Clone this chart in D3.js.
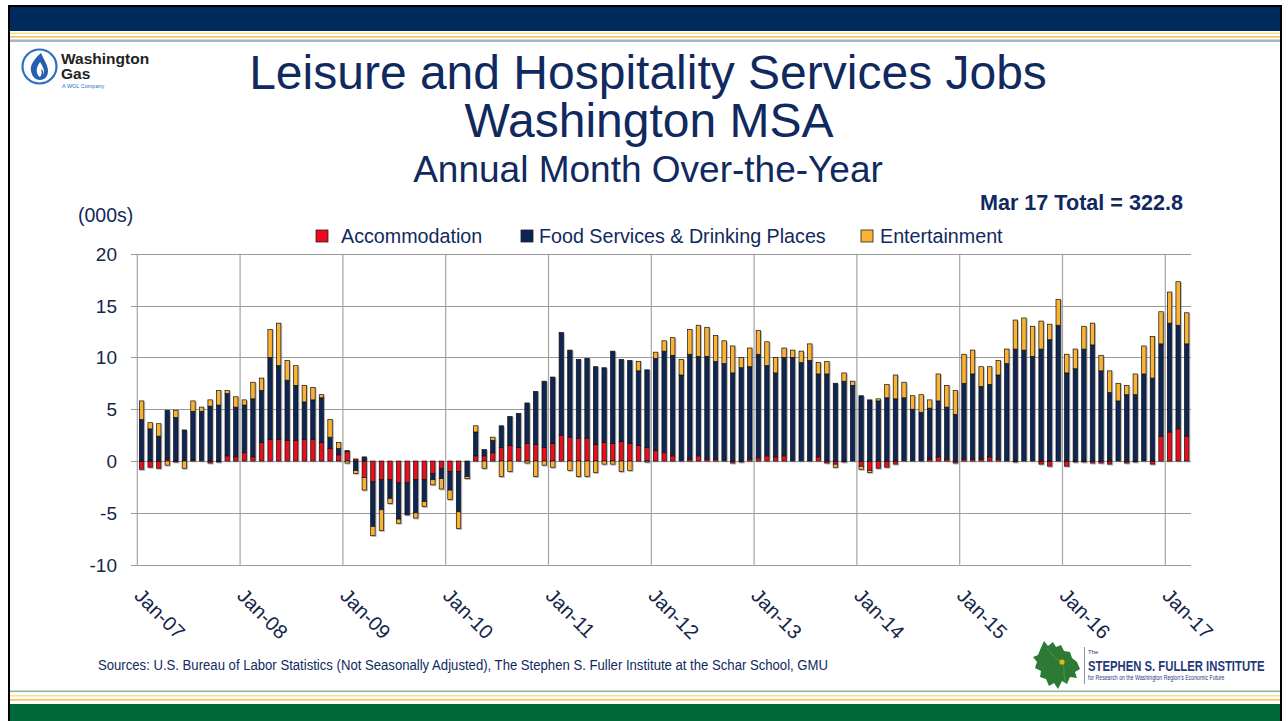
<!DOCTYPE html>
<html>
<head>
<meta charset="utf-8">
<script src="https://cdn.jsdelivr.net/npm/d3@7"></script>
<style>
  body { margin: 0; background: #fff; }
  svg { display: block; font-family: "Liberation Sans", Arial, sans-serif; }
</style>
</head>
<body>
<svg id="chart" width="1288" height="721"></svg>
<script>
// ---- data (thousands of jobs, change over the year) ----
var years = ["07","08","09","10","11","12","13","14","15","16","17"];
var monthNames = ["Jan","Feb","Mar","Apr","May","Jun","Jul","Aug","Sep","Oct","Nov","Dec"];
var months = [];
years.forEach(function(y){ monthNames.forEach(function(m){ months.push(m + "-" + y); }); });
months = months.slice(0, 123); // Jan-07 .. Mar-17

var accommodation = [
  -0.8,-0.6,-0.7,0.2,-0.1,0,0.1,0,-0.2,-0.1,0.5,0.4,
  0.8,0.4,1.8,2.1,2.1,2.0,2.0,2.1,2.1,1.8,1.2,0.6,
  0.9,0.2,-1.6,-2.0,-1.8,-1.8,-2.1,-2.1,-1.8,-1.8,-1.2,-0.7,
  -1.0,-1.0,0,0.5,0.5,0.8,1.3,1.5,1.3,1.7,1.6,1.3,
  1.7,2.5,2.3,2.2,2.2,1.6,1.8,1.7,1.9,1.7,1.5,1.3,
  1.0,0.8,0.5,0,0.2,0.5,0.2,0.2,0,-0.2,-0.1,0.2,
  0.3,0.5,0.4,0.5,0,0,0,0.4,-0.2,-0.3,-0.1,0,
  -0.5,-0.9,-0.7,-0.6,-0.3,0,0,0,0.2,0.4,0.2,-0.2,
  0.2,0.2,0.2,0.4,0.2,0,-0.1,0,0,-0.3,-0.5,0,
  -0.5,-0.1,-0.1,-0.2,-0.2,-0.3,0,-0.2,-0.1,0,-0.3,2.4,
  2.8,3.1,2.4
];
var food = [
  4.0,3.1,2.4,4.7,4.2,3.0,4.7,4.8,5.3,5.4,6.0,4.8,
  4.6,5.6,5.0,7.9,7.1,5.8,5.3,3.6,3.8,4.3,1.1,0.6,
  0.1,-0.9,0.4,-4.3,-2.9,-1.8,-3.5,-3.1,-3.2,-2.1,-0.6,-1.0,
  -1.8,-3.9,-1.5,2.3,0.6,1.2,2.1,2.8,3.3,3.9,5.1,6.4,
  6.4,9.9,8.4,7.6,7.7,7.5,7.2,8.9,7.9,8.0,7.2,7.5,
  8.9,9.8,9.7,8.3,10.1,9.6,9.9,9.4,9.4,8.5,9.0,8.9,
  10.0,8.7,8.1,9.5,10.0,9.5,9.7,8.0,8.4,7.5,7.7,7.3,
  6.3,5.9,5.8,6.1,6.0,6.1,5.0,4.7,4.9,5.4,5.0,4.5,
  7.3,8.2,7.0,7.0,8.1,9.4,10.8,10.7,10.1,10.8,11.7,13.1,
  8.5,8.9,10.8,11.2,8.7,6.6,5.8,6.4,6.4,8.4,8.0,8.9,
  10.5,10.0,8.9
];
var entertainment = [
  1.8,0.6,1.2,-0.4,0.7,-0.7,1.0,0.4,0.6,1.4,0.3,1.0,
  0.5,1.6,1.2,2.7,4.1,1.9,1.9,1.6,1.2,0.3,1.7,0.6,
  -0.2,-0.3,-1.2,-0.9,-2.0,-0.5,-0.4,0,-0.5,-0.5,-0.5,-1.0,
  -0.9,-1.6,-0.2,0.6,-0.7,0.3,-1.5,-1.0,0,-0.2,-1.5,-0.4,
  -0.6,0,-0.9,-1.5,-1.5,-1.1,-0.3,-0.3,-1.0,-0.9,0.9,-0.1,
  0.6,1.0,1.7,1.5,2.4,3.0,2.8,2.5,2.2,2.6,1.0,1.8,
  2.3,2.3,1.5,0.9,0.7,1.1,1.6,1.1,1.2,-0.3,0.8,0.4,
  -0.3,-0.2,0.2,1.3,2.3,1.5,1.3,1.7,0.8,2.6,2.1,2.3,
  2.8,2.3,1.9,1.7,1.4,1.4,2.8,3.1,2.9,2.7,1.5,2.5,
  1.8,1.9,2.2,2.1,1.5,2.1,1.7,0.9,2.0,2.7,4.0,3.1,
  3.0,4.2,3.0
];
var seriesKeys = ["acc", "food", "ent"];
var seriesNames = ["Accommodation", "Food Services & Drinking Places", "Entertainment"];
var seriesColors = ["#ec0a1c", "#0b2552", "#fbb232"];
var yTicks = [-10, -5, 0, 5, 10, 15, 20];
var xTickLabels = ["Jan-07","Jan-08","Jan-09","Jan-10","Jan-11","Jan-12","Jan-13","Jan-14","Jan-15","Jan-16","Jan-17"];

var navy = "#10295e";
var svg = d3.select("#chart");

// ---- slide frame ----
svg.append("rect").attr("x", 10).attr("y", 7).attr("width", 1270).attr("height", 24).attr("fill", "#002a5c");
svg.append("rect").attr("x", 10).attr("y", 32.5).attr("width", 1270).attr("height", 1.5).attr("fill", "#f7e08f");
svg.append("rect").attr("x", 10).attr("y", 36).attr("width", 1270).attr("height", 1.6).attr("fill", "#f3c64a");
svg.append("rect").attr("x", 10).attr("y", 39.5).attr("width", 1270).attr("height", 2.5).attr("fill", "#a5b4c8");

svg.append("rect").attr("x", 10).attr("y", 690.5).attr("width", 1270).attr("height", 1.6).attr("fill", "#8db89a");
svg.append("rect").attr("x", 10).attr("y", 695).attr("width", 1270).attr("height", 1.5).attr("fill", "#f7e08f");
svg.append("rect").attr("x", 10).attr("y", 699).attr("width", 1270).attr("height", 1.6).attr("fill", "#f3c64a");
svg.append("rect").attr("x", 10).attr("y", 704).attr("width", 1270).attr("height", 17).attr("fill", "#006838");

svg.append("path").attr("d", "M9,721V6H1281V721").attr("fill", "none").attr("stroke", "#000").attr("stroke-width", 2);

// ---- Washington Gas logo ----
var wg = svg.append("g");
wg.append("circle").attr("cx", 39.5).attr("cy", 66.5).attr("r", 17).attr("fill", "#fff").attr("stroke", "#2f6fbf").attr("stroke-width", 2.2);
wg.append("path").attr("d", "M41,53 C33,60 30,66 31,71 C32,77 36,80 40,80 C45,80 48,76 48,71 C48,65 44,60 41,53 Z").attr("fill", "#245fb0");
wg.append("path").attr("d", "M40,62 C37,66 36,70 37,73 C38,76 40,77 40,77 C42,75 42,72 41,69 C43,70 44,72 43,75 C45,72 44,68 40,62 Z").attr("fill", "#fff");
wg.append("text").attr("x", 61).attr("y", 64).attr("font-size", 15.5).attr("font-weight", "bold").attr("fill", "#222").text("Washington");
wg.append("text").attr("x", 61).attr("y", 79).attr("font-size", 15.5).attr("font-weight", "bold").attr("fill", "#222").text("Gas");
wg.append("text").attr("x", 62).attr("y", 88).attr("font-size", 5.5).attr("fill", "#2f6fbf").text("A WGL Company");

// ---- titles ----
svg.append("text").attr("x", 648).attr("y", 89).attr("text-anchor", "middle").attr("font-size", 48).attr("fill", navy).text("Leisure and Hospitality Services Jobs");
svg.append("text").attr("x", 649).attr("y", 137).attr("text-anchor", "middle").attr("font-size", 48).attr("fill", navy).text("Washington MSA");
svg.append("text").attr("x", 648).attr("y", 182).attr("text-anchor", "middle").attr("font-size", 37).attr("fill", navy).text("Annual Month Over-the-Year");
svg.append("text").attr("x", 1183).attr("y", 210).attr("text-anchor", "end").attr("font-size", 21.6).attr("font-weight", "bold").attr("fill", navy).text("Mar 17 Total = 322.8");
svg.append("text").attr("x", 78).attr("y", 222).attr("font-size", 19.5).attr("fill", navy).text("(000s)");

// ---- legend ----
var legendX = [316, 521, 861];
var legendTextX = [341, 539, 880];
var legend = svg.append("g").selectAll("g").data(seriesNames).enter().append("g");
legend.append("rect")
  .attr("x", function(d, i){ return legendX[i]; }).attr("y", 230)
  .attr("width", 12).attr("height", 12)
  .attr("fill", function(d, i){ return seriesColors[i]; })
  .attr("stroke", "#222").attr("stroke-width", 0.8);
legend.append("text")
  .attr("x", function(d, i){ return legendTextX[i]; }).attr("y", 243)
  .attr("font-size", 19.7).attr("fill", navy)
  .text(function(d){ return d; });

// ---- scales ----
var x = d3.scaleBand().domain(months).range([137.3, 1191]).paddingInner(0.48).paddingOuter(0.24);
var y = d3.scaleLinear().domain([-10, 20]).range([564.7, 253.7]);

// gridlines
var grid = svg.append("g");
grid.selectAll("line.h").data(yTicks).enter().append("line")
  .attr("x1", 131).attr("x2", 1191)
  .attr("y1", function(d){ return Math.round(y(d)) + 0.5; })
  .attr("y2", function(d){ return Math.round(y(d)) + 0.5; })
  .attr("stroke", "#9a9a9a").attr("stroke-width", 1.2);
grid.selectAll("line.v").data(xTickLabels).enter().append("line")
  .attr("x1", function(d){ return x(d) - x.step() * x.paddingInner() / 2; })
  .attr("x2", function(d){ return x(d) - x.step() * x.paddingInner() / 2; })
  .attr("y1", y(20)).attr("y2", y(-10))
  .attr("stroke", "#a3a3a3").attr("stroke-width", 1.2);

// y tick labels
svg.append("g").selectAll("text").data(yTicks).enter().append("text")
  .attr("x", 117).attr("y", function(d){ return y(d) + 7; })
  .attr("text-anchor", "end").attr("font-size", 19).attr("fill", "#14264a")
  .text(function(d){ return d; });

// x tick labels
svg.append("g").selectAll("text").data(xTickLabels).enter().append("text")
  .attr("transform", function(d){
    var gx = x(d) - x.step() * x.paddingInner() / 2;
    return "translate(" + (gx - 4) + ",597) rotate(45)";
  })
  .attr("font-size", 20).attr("fill", "#14264a")
  .text(function(d){ return d; });

// ---- stacked bars ----
var rows = months.map(function(m, i){
  return { month: m, acc: accommodation[i], food: food[i], ent: entertainment[i] };
});
var stacked = d3.stack().keys(seriesKeys).offset(d3.stackOffsetDiverging)(rows);

var defs = svg.append("defs");
var f = defs.append("filter").attr("id", "shadow").attr("x", "-50%").attr("y", "-10%").attr("width", "200%").attr("height", "120%");
f.append("feDropShadow").attr("dx", 1).attr("dy", 1).attr("stdDeviation", 0.6).attr("flood-color", "#777").attr("flood-opacity", 0.55);

var bars = svg.append("g").attr("filter", "url(#shadow)");
bars.selectAll("g").data(stacked).enter().append("g")
  .attr("fill", function(d, i){ return seriesColors[i]; })
  .selectAll("rect").data(function(d){ return d; }).enter()
  .filter(function(d){ return d[1] !== d[0]; })
  .append("rect")
  .attr("x", function(d){ return x(d.data.month); })
  .attr("width", x.bandwidth())
  .attr("y", function(d){ return y(Math.max(d[0], d[1])); })
  .attr("height", function(d){ return Math.abs(y(d[0]) - y(d[1])); })
  .attr("stroke", "#111").attr("stroke-width", 0.7);

// ---- sources ----
svg.append("text").attr("x", 98).attr("y", 670).attr("font-size", 14).attr("fill", navy)
  .attr("textLength", 730).attr("lengthAdjust", "spacingAndGlyphs")
  .text("Sources: U.S. Bureau of Labor Statistics (Not Seasonally Adjusted), The Stephen S. Fuller Institute at the Schar School, GMU");

// ---- Fuller Institute logo ----
var fl = svg.append("g");
fl.append("path")
  .attr("d", "M1040,650 L1044,641 L1048,646 L1053,642 L1056,647 L1061,645 L1064,651 L1070,652 L1072,658 L1077,662 L1080,669 L1075,672 L1077,678 L1070,677 L1067,684 L1062,681 L1058,689 L1054,683 L1049,686 L1046,679 L1040,677 L1041,671 L1035,668 L1037,662 L1033,657 L1038,655 Z")
  .attr("fill", "#2c7a35");
fl.append("path").attr("d", "M1047,648 C1052,655 1056,660 1062,662 C1066,668 1062,674 1066,682").attr("fill", "none").attr("stroke", "#5a9a4f").attr("stroke-width", 0.8);
fl.append("circle").attr("cx", 1062).attr("cy", 662).attr("r", 2.6).attr("fill", "#f2b705");
fl.append("line").attr("x1", 1084.5).attr("x2", 1084.5).attr("y1", 647).attr("y2", 684).attr("stroke", "#8796b0").attr("stroke-width", 1);
fl.append("text").attr("x", 1088).attr("y", 654).attr("font-size", 6).attr("fill", "#1f3a78").text("The");
// condensed wordmark: squeeze horizontally with a transform so it stays inside the slide
fl.append("text").attr("transform", "translate(1088,671) scale(0.78,1)")
  .attr("font-size", 14.5).attr("font-weight", "bold").attr("fill", "#1f3a78")
  .text("STEPHEN S. FULLER INSTITUTE");
fl.append("text").attr("transform", "translate(1088,680) scale(0.8,1)")
  .attr("font-size", 6.5).attr("fill", "#1f3a78")
  .text("for Research on the Washington Region\u2019s Economic Future");
</script>
</body>
</html>
